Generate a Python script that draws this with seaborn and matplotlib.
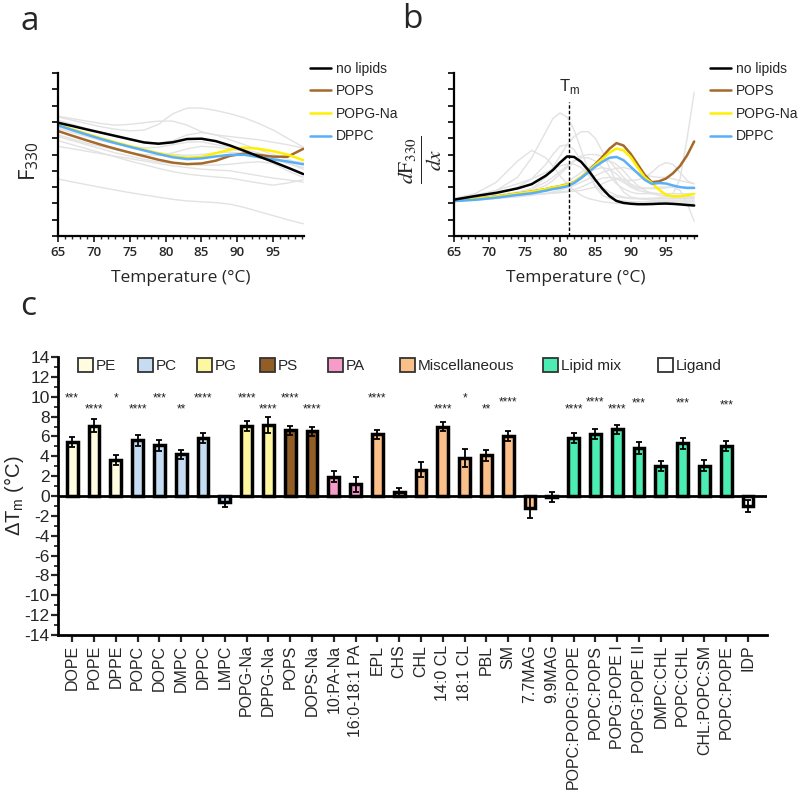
import numpy as np
import pandas as pd
import matplotlib
matplotlib.use("Agg")
import matplotlib.pyplot as plt
from matplotlib.patches import Patch
from matplotlib.ticker import MultipleLocator
import seaborn as sns

# ---------------- data: panel a (F330 vs temperature) ----------------
T_a = [65, 67, 69, 71, 73, 75, 77, 79, 81, 83, 85, 87, 89, 91, 93, 95, 97, 99.2]
a_nolipids = [6.95, 6.75, 6.54, 6.34, 6.14, 5.94, 5.74, 5.66, 5.75, 5.95, 5.97, 5.82, 5.55, 5.22, 4.88, 4.55, 4.20, 3.80]
a_pops = [6.44, 6.15, 5.87, 5.60, 5.35, 5.12, 4.90, 4.68, 4.50, 4.41, 4.45, 4.62, 4.92, 5.06, 4.97, 4.87, 4.86, 5.35]
a_popg = [6.85, 6.55, 6.27, 6.00, 5.75, 5.52, 5.30, 5.08, 4.90, 4.80, 4.85, 5.08, 5.30, 5.42, 5.35, 5.20, 5.00, 4.65]
a_dppc = [6.79, 6.50, 6.22, 5.95, 5.70, 5.47, 5.25, 5.03, 4.83, 4.72, 4.76, 4.88, 4.98, 4.98, 4.84, 4.70, 4.57, 4.40]
a_gray1 = [7.3, 7.1, 6.9, 6.7, 6.55, 6.45, 6.5, 6.85, 7.5, 7.85, 7.85, 7.7, 7.5, 7.25, 6.9, 6.5, 6.0, 5.45]
a_gray2 = [7.35, 7.2, 7.05, 6.9, 6.8, 6.85, 6.95, 7.05, 7.05, 6.8, 6.4, 6.2, 6.1, 6.0, 5.9, 5.75, 5.6, 5.4]
a_gray3 = [3.5, 3.32, 3.15, 2.98, 2.82, 2.66, 2.52, 2.38, 2.25, 2.15, 2.1, 2.05, 1.95, 1.75, 1.5, 1.25, 1.0, 0.75]
a_gray4 = [5.85, 5.6, 5.35, 5.1, 4.85, 4.6, 4.38, 4.15, 3.95, 3.8, 3.7, 3.62, 3.55, 3.4, 3.25, 3.12, 3.25, 3.45]
a_gray5 = [5.5, 5.35, 5.2, 5.05, 4.9, 4.75, 4.6, 4.45, 4.3, 4.2, 4.1, 4.05, 4.0, 3.85, 3.7, 3.55, 3.45, 3.3]
a_gray6 = [6.6, 6.35, 6.1, 5.85, 5.65, 5.5, 5.4, 5.45, 5.6, 5.75, 5.78, 5.6, 5.45, 5.3, 5.1, 4.85, 4.5, 4.1]
a_gray7 = [6.2, 5.95, 5.7, 5.5, 5.3, 5.1, 5.0, 4.95, 5.1, 5.35, 5.5, 5.45, 5.35, 5.2, 5.0, 4.75, 4.45, 4.2]
a_gray8 = [6.1, 5.85, 5.6, 5.35, 5.1, 4.9, 4.7, 4.55, 4.45, 4.4, 4.35, 4.35, 4.4, 4.5, 4.55, 4.45, 4.0, 3.6]
a_gray9 = [7.1, 6.85, 6.6, 6.35, 6.1, 5.9, 5.75, 5.7, 5.85, 6.2, 6.35, 6.2, 5.9, 5.6, 5.3, 5.0, 4.7, 4.4]
a_gray10 = [6.7, 6.45, 6.2, 5.95, 5.7, 5.45, 5.25, 5.1, 5.0, 4.95, 5.0, 5.1, 5.15, 5.05, 4.9, 4.75, 4.6, 4.5]
a_grays = [a_gray1, a_gray2, a_gray3, a_gray4, a_gray5, a_gray6, a_gray7, a_gray8, a_gray9, a_gray10]

# ---------------- data: panel b (first derivative) ----------------
T_b = [65, 68, 71, 74, 76, 78, 79, 80, 81, 82, 83, 84, 85, 86, 87, 88, 89, 90, 91, 92, 93, 94, 95, 96, 97, 98, 99]
b_nolipids = [2.23, 2.45, 2.65, 2.92, 3.18, 3.70, 4.05, 4.50, 4.88, 4.85, 4.55, 4.05, 3.45, 2.90, 2.45, 2.15, 2.03, 1.98, 1.95, 1.95, 1.96, 1.98, 1.99, 1.97, 1.94, 1.90, 1.87]
b_pops = [2.15, 2.28, 2.42, 2.60, 2.72, 2.88, 2.98, 3.05, 3.15, 3.30, 3.60, 3.97, 4.40, 4.85, 5.35, 5.70, 5.55, 5.05, 4.40, 3.75, 3.30, 3.35, 3.52, 3.85, 4.30, 4.95, 5.80]
b_popg = [2.15, 2.28, 2.42, 2.60, 2.72, 2.88, 2.98, 3.05, 3.15, 3.30, 3.60, 3.95, 4.35, 4.72, 5.10, 5.37, 5.25, 4.85, 4.20, 3.60, 3.25, 2.85, 2.52, 2.44, 2.44, 2.50, 2.58]
b_dppc = [2.15, 2.22, 2.35, 2.52, 2.62, 2.78, 2.88, 2.95, 3.05, 3.25, 3.55, 3.90, 4.25, 4.55, 4.80, 4.85, 4.65, 4.25, 3.85, 3.45, 3.20, 3.25, 3.22, 3.10, 3.00, 2.95, 2.95]
b_gray1 = [2.2, 2.4, 2.8, 3.6, 4.8, 6.4, 7.2, 7.55, 7.3, 6.5, 5.3, 4.0, 3.0, 2.5, 2.3, 2.2, 2.15, 2.1, 2.1, 2.1, 2.1, 2.1, 2.1, 2.1, 2.1, 2.1, 2.1]
b_gray2 = [2.3, 2.6, 3.3, 4.6, 5.25, 4.8, 4.3, 3.7, 3.2, 2.8, 2.5, 2.3, 2.2, 2.1, 2.05, 2.0, 2.0, 2.0, 2.0, 2.0, 2.0, 2.0, 2.0, 2.0, 2.0, 2.0, 2.0]
b_gray3 = [2.1, 2.3, 2.45, 2.6, 2.9, 3.6, 4.2, 4.9, 5.6, 6.1, 6.4, 6.4, 6.0, 5.2, 4.2, 3.3, 2.7, 2.4, 2.3, 2.25, 2.2, 2.2, 2.2, 2.2, 2.2, 2.2, 2.2]
b_gray4 = [2.2, 2.3, 2.4, 2.5, 2.55, 2.6, 2.62, 2.65, 2.7, 2.75, 2.8, 2.9, 3.0, 3.2, 3.4, 3.5, 3.3, 3.0, 2.8, 2.7, 2.65, 2.6, 2.6, 2.6, 3.5, 6.0, 8.8]
b_gray5 = [2.2, 2.4, 2.6, 3.0, 3.5, 4.4, 5.0, 5.5, 5.6, 5.3, 4.6, 3.8, 3.1, 2.7, 2.5, 2.4, 2.35, 2.3, 2.3, 2.3, 2.3, 2.3, 2.3, 2.3, 2.3, 2.3, 2.3]
b_gray6 = [2.2, 2.3, 2.4, 2.6, 2.8, 3.1, 3.4, 3.8, 4.2, 4.6, 4.9, 5.0, 5.0, 4.9, 4.6, 4.1, 3.6, 3.2, 3.0, 2.95, 2.9, 2.9, 2.95, 3.0, 3.0, 3.0, 3.0]
b_gray7 = [2.15, 2.25, 2.35, 2.5, 2.6, 2.8, 2.95, 3.1, 3.3, 3.6, 3.9, 4.2, 4.45, 4.6, 4.6, 4.4, 4.0, 3.5, 3.1, 2.8, 2.6, 2.5, 2.45, 2.4, 2.4, 2.4, 2.4]
b_gray8 = [2.2, 2.35, 2.5, 2.7, 2.9, 3.3, 3.6, 3.95, 4.3, 4.6, 4.8, 4.8, 4.6, 4.2, 3.7, 3.2, 2.9, 2.7, 2.6, 2.6, 2.6, 2.6, 2.6, 2.6, 2.6, 2.6, 2.6]
b_gray9 = [2.1, 2.2, 2.3, 2.4, 2.5, 2.6, 2.7, 2.8, 2.95, 3.1, 3.3, 3.5, 3.7, 3.9, 4.05, 4.15, 4.2, 4.1, 3.9, 3.75, 3.65, 3.6, 3.6, 3.5, 3.4, 3.3, 3.2]
b_gray10 = [2.2, 2.3, 2.4, 2.55, 2.65, 2.8, 2.9, 3.0, 3.15, 3.35, 3.6, 3.9, 4.1, 4.2, 4.1, 3.8, 3.4, 3.1, 2.9, 2.9, 2.95, 3.0, 3.0, 3.0, 2.8, 2.0, 0.9]
b_gray11 = [2.2, 2.3, 2.4, 2.5, 2.55, 2.6, 2.65, 2.7, 2.75, 2.85, 3.0, 3.2, 3.4, 3.55, 3.6, 3.55, 3.45, 3.4, 3.45, 3.6, 3.9, 4.3, 4.5, 4.4, 3.9, 3.4, 3.2]
b_gray12 = [2.3, 2.5, 2.8, 3.2, 3.5, 3.9, 4.1, 4.3, 4.4, 4.4, 4.2, 3.8, 3.4, 3.0, 2.7, 2.5, 2.4, 2.3, 2.3, 2.3, 2.3, 2.35, 2.4, 2.4, 2.4, 2.4, 2.4]
b_grays = [b_gray1, b_gray2, b_gray3, b_gray4, b_gray5, b_gray6, b_gray7, b_gray8,
           b_gray9, b_gray10, b_gray11, b_gray12]
Tm_value = 81.3

# ---------------- data: panel c (delta Tm bars) ----------------
lipids = ["DOPE", "POPE", "DPPE", "POPC", "DOPC", "DMPC", "DPPC", "LMPC", "POPG-Na", "DPPG-Na",
          "POPS", "DOPS-Na", "10:PA-Na", "16:0-18:1 PA", "EPL", "CHS", "CHL", "14:0 CL", "18:1 CL",
          "PBL", "SM", "7.7MAG", "9.9MAG", "POPC:POPG:POPE", "POPC:POPS", "POPG:POPE I",
          "POPG:POPE II", "DMPC:CHL", "POPC:CHL", "CHL:POPC:SM", "POPC:POPE", "IDP"]
groups = ["PE", "PE", "PE", "PC", "PC", "PC", "PC", "PC", "PG", "PG",
          "PS", "PS", "PA", "PA", "Miscellaneous", "Miscellaneous", "Miscellaneous", "Miscellaneous",
          "Miscellaneous", "Miscellaneous", "Miscellaneous", "Miscellaneous", "Miscellaneous",
          "Lipid mix", "Lipid mix", "Lipid mix", "Lipid mix", "Lipid mix", "Lipid mix", "Lipid mix",
          "Lipid mix", "Ligand"]
dTm = [5.4, 7.1, 3.65, 5.6, 5.1, 4.2, 5.85, -0.6, 7.05, 7.15,
       6.6, 6.5, 1.95, 1.2, 6.2, 0.4, 2.65, 7.0, 3.85, 4.1, 6.0, -1.2, -0.1,
       5.8, 6.25, 6.7, 4.85, 3.0, 5.3, 3.05, 5.05, -1.0]
dTm_err = [0.5, 0.65, 0.5, 0.55, 0.55, 0.45, 0.5, 0.5, 0.5, 0.8,
           0.5, 0.5, 0.55, 0.75, 0.45, 0.45, 0.75, 0.5, 0.9, 0.55, 0.5, 1.05, 0.5,
           0.5, 0.5, 0.5, 0.6, 0.5, 0.55, 0.55, 0.5, 0.6]
stars = ["***", "****", "*", "****", "***", "**", "****", "", "****", "****",
         "****", "****", "", "", "****", "", "", "****", "*", "**", "****", "", "",
         "****", "****", "****", "***", "", "***", "", "***", ""]
star_y = [10.0, 8.93, 10.0, 8.93, 10.0, 8.93, 10.0, 0, 10.0, 8.93,
          10.0, 8.93, 0, 0, 10.0, 0, 0, 8.93, 10.0, 8.93, 9.67, 0, 0,
          8.93, 9.67, 8.93, 9.5, 0, 9.5, 0, 9.35, 0]
group_order = ["PE", "PC", "PG", "PS", "PA", "Miscellaneous", "Lipid mix", "Ligand"]
group_colors = ["#FFFCE0", "#C5DCF2", "#FFF7A0", "#925E26", "#F59CC9", "#FBC08A", "#4CEDB2", "#FFFFFF"]

series_names = ["no lipids", "POPS", "POPG-Na", "DPPC"]
series_colors = ["#000000", "#A5692A", "#FFF000", "#5AAFF7"]

# ---------------- figure ----------------
sns.set_theme(style="ticks")
plt.rcParams["font.family"] = ["Liberation Sans", "DejaVu Sans"]
plt.rcParams["axes.unicode_minus"] = False

fig = plt.figure(figsize=(8, 8.01), dpi=100)
W, H = 800.0, 801.0

def ax_rect(l, r, t, b):
    return [l / W, 1 - b / H, (r - l) / W, (b - t) / H]

ax_a = fig.add_axes(ax_rect(58, 304, 73, 236))
ax_b = fig.add_axes(ax_rect(454, 697, 73, 236))
ax_c = fig.add_axes(ax_rect(58, 767, 357, 635))

gray = "#E2E2E2"

def style_curve_axes(ax, xmax):
    ax.set_xlim(65, xmax)
    ax.set_ylim(0, 10)
    ax.xaxis.set_major_locator(MultipleLocator(5))
    ax.xaxis.set_minor_locator(MultipleLocator(1))
    ax.yaxis.set_major_locator(MultipleLocator(1))
    ax.set_yticklabels([])
    ax.tick_params(axis="x", which="major", length=4, width=1.3, labelsize=9.5, pad=3)
    ax.tick_params(axis="x", which="minor", length=2.5, width=1.0)
    ax.tick_params(axis="y", which="major", length=4, width=1.2, color="black")
    for lab in ax.get_xticklabels():
        lab.set_fontfamily("Open Sans")
        lab.set_fontweight("semibold")
    for s in ["top", "right"]:
        ax.spines[s].set_visible(False)
    for s in ["left", "bottom"]:
        ax.spines[s].set_linewidth(1.6)
        ax.spines[s].set_color("black")
    ax.set_xlabel("Temperature (°C)", fontsize=12.5, family="Open Sans", labelpad=8)

# panel a
for g in a_grays:
    sns.lineplot(x=T_a, y=g, ax=ax_a, color=gray, lw=1.0, sort=False, estimator=None, legend=False)
a_series = [a_nolipids, a_pops, a_popg, a_dppc]
for idx in [1, 2, 3, 0]:
    sns.lineplot(x=T_a, y=a_series[idx], ax=ax_a, color=series_colors[idx], lw=1.8,
                 sort=False, estimator=None, label=series_names[idx])
style_curve_axes(ax_a, 99.3)
ax_a.set_ylabel(r"$\mathregular{F_{330}}$", fontsize=16, family="Open Sans")
ax_a.yaxis.set_label_coords(-0.07, 0.46)

# panel b
for g in b_grays:
    sns.lineplot(x=T_b, y=g, ax=ax_b, color=gray, lw=1.0, sort=False, estimator=None, legend=False)
b_series = [b_nolipids, b_pops, b_popg, b_dppc]
for idx in [1, 2, 3, 0]:
    sns.lineplot(x=T_b, y=b_series[idx], ax=ax_b, color=series_colors[idx], lw=1.8,
                 sort=False, estimator=None, label=series_names[idx])
style_curve_axes(ax_b, 99.4)
ax_b.axvline(Tm_value, ymin=0, ymax=0.82, color="black", ls=(0, (2.5, 1.5)), lw=1.0)
ax_b.text(Tm_value, 9.15, r"T$_\mathregular{m}$", ha="center", va="center", fontsize=12)
ax_b.set_ylabel(r"$\frac{d\mathrm{F}_{330}}{dx}$", fontsize=22, math_fontfamily="stix")
ax_b.yaxis.set_label_coords(-0.04, 0.47)

for ax, xa in [(ax_a, 1.024), (ax_b, 1.053)]:
    h, l = ax.get_legend_handles_labels()
    hd = dict(zip(l, h))
    ax.legend([hd[n] for n in series_names], series_names, loc="upper left",
              bbox_to_anchor=(xa, 1.07), frameon=False, fontsize=10, handlelength=1.5,
              handletextpad=0.4, labelspacing=0.62, borderpad=0, borderaxespad=0)

# panel c
df = pd.DataFrame({"lipid": lipids, "group": groups, "dTm": dTm, "err": dTm_err})
palette = dict(zip(group_order, group_colors))
sns.barplot(data=df, x="lipid", y="dTm", hue="group", hue_order=group_order, order=lipids,
            palette=palette, dodge=False, width=0.5, edgecolor="black", linewidth=2.5,
            legend=False, ax=ax_c, errorbar=None, saturation=1)
xpos = np.arange(len(lipids))
ax_c.errorbar(xpos, df["dTm"], yerr=df["err"], fmt="none", ecolor="black", elinewidth=1.3,
              capsize=2.2, capthick=1.3, zorder=5)
ax_c.axhline(0, color="black", lw=2.0, zorder=6)
for i, (s, yv) in enumerate(zip(stars, star_y)):
    if s:
        ax_c.text(i, yv - 0.2, s, ha="center", va="center", fontsize=8.5, color="#222222")
ax_c.set_xlim(-0.65, len(lipids) - 0.13)
ax_c.set_ylim(-14, 14)
ax_c.yaxis.set_major_locator(MultipleLocator(2))
ax_c.yaxis.set_minor_locator(MultipleLocator(1))
ax_c.tick_params(axis="y", which="major", length=5, width=1.6, labelsize=12.5, pad=1)
ax_c.tick_params(axis="y", which="minor", length=3, width=1.3)
ax_c.tick_params(axis="x", length=5, width=1.6, labelsize=11.5, pad=2)
ax_c.set_xticks(xpos)
ax_c.set_xticklabels(lipids, rotation=90)
for s in ["top", "right"]:
    ax_c.spines[s].set_visible(False)
for s in ["left", "bottom"]:
    ax_c.spines[s].set_linewidth(2.0)
    ax_c.spines[s].set_color("black")
ax_c.set_xlabel("")
ax_c.set_ylabel(r"$\mathregular{\Delta T_m}$ (°C)", fontsize=14.5)
ax_c.yaxis.set_label_coords(-0.045, 0.5)

# legend entries of panel c, each placed at its own horizontal position (pixels)
legend_px = [78, 138, 197, 260, 328, 400, 543, 658]
for px, name, col in zip(legend_px, group_order, group_colors):
    lg = ax_c.legend([Patch(facecolor=col, edgecolor="#333333", linewidth=1.3)], [name],
                     loc="upper left", bbox_to_anchor=((px - 58) / 709, 0.995),
                     frameon=False, fontsize=11, handlelength=1.0, handleheight=1.0,
                     handletextpad=0.15, borderpad=0, borderaxespad=0)
    ax_c.add_artist(lg)
ax_c.legend_ = None

# panel letters
fig.text(20 / W, 1 - 30 / H, "a", fontsize=24, family="Open Sans", va="baseline")
fig.text(402 / W, 1 - 28 / H, "b", fontsize=24, family="Open Sans", va="baseline")
fig.text(20 / W, 1 - 315 / H, "c", fontsize=24, family="Open Sans", va="baseline")

fig.savefig("out.png", dpi=100)
